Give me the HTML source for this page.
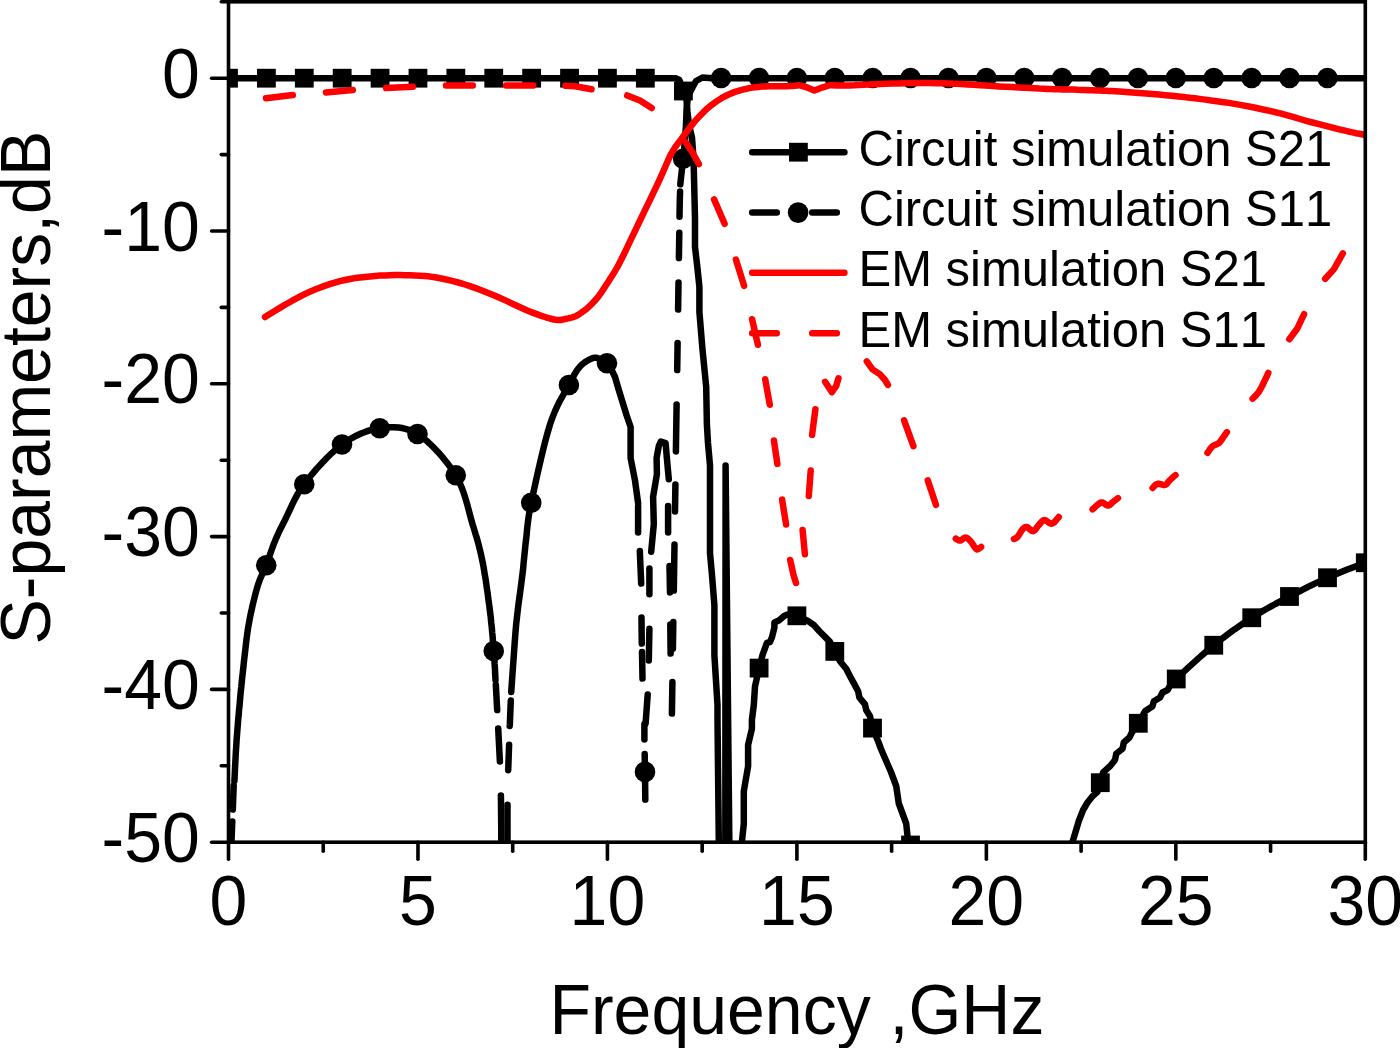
<!DOCTYPE html>
<html lang="en"><head><meta charset="utf-8"><title>S-parameters</title>
<style>html,body{margin:0;padding:0;background:#fff}svg{display:block}</style>
</head><body>
<svg width="1400" height="1048" viewBox="0 0 1400 1048">
<rect width="1400" height="1048" fill="#fff"/>
<defs><clipPath id="pc"><rect x="228.5" y="1.8" width="1136.8" height="840.4000000000001"/></clipPath></defs>
<g clip-path="url(#pc)" fill="none" stroke-linejoin="round" stroke-linecap="round">
<polyline points="228.5,78.2 675.6,78.2 679.4,80.0 683.4,91.0 686.5,100.0 687.5,112.0 689.0,125.0 692.0,137.5 693.6,160.0 695.0,218.5 695.0,247.0 697.5,268.5 699.4,287.0 699.4,312.0 702.5,349.5 706.2,387.0 706.9,424.5 708.0,443.0 710.0,465.5 710.0,553.0 711.9,574.0 714.4,605.2 714.4,655.2 717.5,705.0 717.5,720.0 718.8,842.0 719.0,900.0" stroke="#000" stroke-width="6.5"/>
<polyline points="725.3,900.0 725.6,465.5 729.9,900.0" stroke="#000" stroke-width="6.5" stroke-linejoin="round"/>
<polyline points="741.5,860.0 741.9,842.0 743.8,823.8 743.8,791.2 748.1,766.2 748.1,745.0 751.9,728.8 751.9,720.0 753.8,705.0 755.0,686.5 759.1,668.1 762.5,655.2 766.9,642.8 770.0,642.0 771.9,637.5 774.4,627.5 774.4,622.5 778.8,620.6 783.8,616.2 787.5,614.4 796.9,615.8 807.5,620.6 813.8,625.0 819.4,631.2 825.0,636.9 830.0,641.9 834.8,651.4 840.0,661.2 846.2,668.8 850.0,676.2 853.8,683.1 858.1,691.2 859.4,697.5 865.0,704.4 866.2,710.0 870.0,716.2 872.5,728.1 878.0,741.0 881.0,749.0 887.5,764.0 891.0,772.0 896.2,786.0 898.8,803.5 906.2,823.5 907.5,836.0 910.5,845.0 912.0,870.0" stroke="#000" stroke-width="6.5"/>
<polyline points="1066.0,860.0 1072.5,842.0 1078.8,821.0 1083.1,810.0 1087.5,802.5 1092.5,796.2 1097.5,791.9 1100.3,782.7 1103.1,772.5 1110.0,766.2 1115.0,760.0 1116.2,753.8 1122.5,748.8 1123.8,742.5 1129.4,737.5 1131.9,732.5 1138.3,723.3 1145.0,711.2 1152.5,706.2 1153.8,701.2 1160.0,697.5 1162.5,692.5 1167.5,690.0 1168.0,689.3 1168.4,688.6 1168.9,687.7 1169.5,686.6 1170.5,685.3 1171.8,683.6 1173.7,681.5 1176.2,679.0 1179.6,675.8 1183.6,672.0 1188.2,667.7 1193.2,663.2 1198.4,658.4 1203.7,653.8 1208.8,649.3 1213.8,645.2 1218.5,641.5 1223.2,637.8 1228.0,634.2 1232.7,630.7 1237.5,627.3 1242.3,624.0 1247.0,620.8 1251.8,617.8 1256.5,614.8 1261.2,611.9 1265.9,609.2 1270.6,606.6 1275.3,604.0 1280.1,601.5 1284.8,599.0 1289.5,596.5 1294.2,594.0 1299.0,591.5 1303.7,589.1 1308.5,586.7 1313.3,584.4 1318.0,582.1 1322.8,579.9 1327.5,577.8 1332.3,575.7 1337.0,573.7 1341.8,571.7 1346.6,569.8 1351.4,568.0 1356.1,566.2 1360.7,564.4 1365.3,562.8 1370.0,561.0 1375.0,559.3 1380.1,557.6 1385.0,555.9 1389.7,554.4 1393.8,553.0 1397.3,551.9 1400.0,551.0" stroke="#000" stroke-width="6.5"/>
<polyline points="233.7,785.4 232.8,809.6" stroke="#000" stroke-width="6.5"/>
<polyline points="232.3,821.4 231.9,831.0 231.5,842.0 231.3,855.6" stroke="#000" stroke-width="6.5"/>
<polyline points="234.4,781.0 234.6,777.8 234.8,773.6 235.0,768.6 235.3,763.0 235.6,757.1 235.9,751.1 236.3,745.4 236.6,740.0 237.0,734.9 237.4,729.8 237.8,724.7 238.2,719.6 238.7,714.6 239.1,709.6 239.6,704.8 240.0,700.0 240.4,695.4 240.8,691.0 241.3,686.8 241.7,682.6 242.1,678.3 242.6,674.1 243.1,669.6 243.6,665.0 244.1,660.1 244.7,655.1 245.3,649.9 245.9,644.7 246.5,639.4 247.2,634.1 247.9,629.0 248.8,624.0 249.7,619.0 250.7,614.0 251.8,609.0 252.9,604.0 254.1,599.2 255.2,594.7 256.4,590.4 257.5,586.5 258.6,583.1 259.7,580.1 260.8,577.5 261.9,575.0 263.0,572.7 264.1,570.4 265.2,567.9 266.2,565.2 267.3,562.3 268.4,559.3 269.5,556.2 270.5,553.1 271.6,550.0 272.7,546.9 273.8,543.9 275.0,541.0 276.1,538.3 277.2,535.9 278.3,533.5 279.3,531.2 280.5,528.8 281.8,526.2 283.3,523.3 285.0,520.0 286.8,516.2 288.7,512.1 290.7,507.8 292.9,503.2 295.3,498.4 297.9,493.6 300.9,488.8 304.2,484.0 308.1,479.1 312.4,473.8 317.0,468.4 322.0,463.0 327.0,457.8 332.1,452.8 337.1,448.3 342.0,444.5 346.7,441.2 351.5,438.3 356.3,435.7 361.0,433.5 365.8,431.7 370.5,430.2 375.3,429.1 380.0,428.2 384.7,427.7 389.4,427.3 394.1,427.2 398.7,427.5 403.4,428.3 408.1,429.6 412.8,431.4 417.5,434.0 422.4,437.4 427.5,441.6 432.7,446.5 437.9,451.9 442.9,457.7 447.7,463.6 452.0,469.5 455.8,475.2 458.9,481.1 461.6,487.2 463.9,493.5 465.9,499.9 467.7,506.2 469.3,512.4 470.9,518.4 472.5,524.0 474.1,529.1 475.5,533.9 476.9,538.3 478.1,542.7 479.2,547.0 480.3,551.5 481.4,556.3 482.5,561.5 483.6,567.2 484.6,573.4 485.7,579.8 486.6,586.4 487.6,593.0 488.4,599.4 489.3,605.7 490.0,611.5 490.7,617.0 491.2,622.4 491.8,627.5 492.2,632.6 492.7,637.4 493.0,642.1 493.4,646.6 493.8,651.0 494.1,655.3 494.4,659.7 494.6,663.9 494.9,668.0 495.1,671.7 495.2,675.0 495.4,677.8 495.5,680.0" stroke="#000" stroke-width="6.5"/>
<polyline points="495.8,684.4 497.2,710.1" stroke="#000" stroke-width="6.5"/>
<polyline points="498.2,728.5 499.9,761.5" stroke="#000" stroke-width="6.5"/>
<polyline points="500.9,795.4 501.2,823.8 501.3,842.0 501.3,853.1" stroke="#000" stroke-width="6.5"/>
<polyline points="510.8,700.4 509.8,725.0 509.7,725.9" stroke="#000" stroke-width="6.5"/>
<polyline points="509.1,744.8 508.2,770.2" stroke="#000" stroke-width="6.5"/>
<polyline points="507.5,804.8 507.5,842.0 507.5,853.1" stroke="#000" stroke-width="6.5"/>
<polyline points="511.2,692.0 511.6,686.6 512.1,679.4 512.7,670.7 513.4,661.1 514.1,651.2 514.8,641.3 515.5,632.1 516.2,624.0 517.0,616.8 517.8,609.9 518.6,603.2 519.5,596.9 520.3,590.8 521.1,585.0 521.8,579.4 522.5,574.0 523.1,569.0 523.5,564.5 523.9,560.2 524.3,556.2 524.7,552.3 525.1,548.4 525.5,544.3 526.0,540.0 526.5,535.8 526.9,531.9 527.2,528.1 527.7,524.1 528.2,519.9 528.9,515.0 529.9,509.4 531.2,502.8 532.9,494.7 535.0,485.2 537.3,474.7 539.8,463.8 542.4,452.8 545.0,442.3 547.6,432.7 550.0,424.5 552.4,417.6 554.9,411.4 557.4,405.9 559.8,401.0 562.3,396.6 564.6,392.5 566.8,388.7 568.8,385.0 570.5,381.6 572.1,378.7 573.5,376.1 574.8,373.8 576.0,371.8 577.3,369.9 578.6,368.2 580.0,366.5 581.5,364.9 583.2,363.5 584.8,362.3 586.5,361.2 588.1,360.2 589.7,359.4 591.2,358.8 592.5,358.2 593.7,357.9 594.7,357.7 595.7,357.7 596.6,357.8 597.4,358.1 598.3,358.4 599.1,358.7 600.0,359.0 600.9,359.4 601.9,359.9 603.0,360.5 604.0,361.2 604.9,361.8 605.8,362.4 606.5,362.9 607.0,363.2 611.0,368.5 615.0,377.0 618.8,390.0 622.5,402.0 626.5,415.0 630.6,427.0 630.6,458.0 635.0,480.5 638.1,503.0" stroke="#000" stroke-width="6.5"/>
<polyline points="638.1,505.9 638.1,532.6" stroke="#000" stroke-width="6.5"/>
<polyline points="639.8,550.9 641.2,583.6" stroke="#000" stroke-width="6.5"/>
<polyline points="641.5,617.4 641.6,630.0 641.8,643.6" stroke="#000" stroke-width="6.5"/>
<polyline points="642.0,651.9 642.5,678.6" stroke="#000" stroke-width="6.5"/>
<polyline points="644.4,724.1 644.4,739.6" stroke="#000" stroke-width="6.5"/>
<polyline points="644.7,754.1 645.0,771.9 645.3,799.6" stroke="#000" stroke-width="6.5"/>
<polyline points="649.4,568.4 649.4,594.2" stroke="#000" stroke-width="6.5"/>
<polyline points="649.4,628.8 648.8,660.5" stroke="#000" stroke-width="6.5"/>
<polyline points="647.7,694.4 645.6,723.6" stroke="#000" stroke-width="6.5"/>
<polyline points="651.2,551.8 653.8,524.2 653.1,496.8 656.9,474.2 656.6,458.0 658.8,446.0 660.8,441.6 665.6,443.2 667.2,461.8 668.8,479.2" stroke="#000" stroke-width="6.5"/>
<polyline points="668.1,505.9 668.1,532.6" stroke="#000" stroke-width="6.5"/>
<polyline points="669.5,565.9 670.0,592.4" stroke="#000" stroke-width="6.5"/>
<polyline points="670.3,624.4 670.6,653.6" stroke="#000" stroke-width="6.5"/>
<polyline points="682.9,160.4 680.3,184.3" stroke="#000" stroke-width="6.5"/>
<polyline points="680.1,191.4 679.8,200.0 679.5,216.8" stroke="#000" stroke-width="6.5"/>
<polyline points="679.3,232.7 678.9,258.1" stroke="#000" stroke-width="6.5"/>
<polyline points="678.5,282.6 678.1,309.6" stroke="#000" stroke-width="6.5"/>
<polyline points="677.6,343.0 677.2,370.1" stroke="#000" stroke-width="6.5"/>
<polyline points="676.6,404.4 675.9,451.4" stroke="#000" stroke-width="6.5"/>
<polyline points="675.4,484.6 675.0,511.4" stroke="#000" stroke-width="6.5"/>
<polyline points="674.5,544.6 673.8,590.6" stroke="#000" stroke-width="6.5"/>
<polyline points="673.3,621.9 672.9,648.6" stroke="#000" stroke-width="6.5"/>
<polyline points="672.4,681.9 671.9,713.6" stroke="#000" stroke-width="6.5"/>
<polyline points="683.1,158.8 685.0,140.0 686.0,125.0 686.5,110.0 688.0,96.0 692.5,87.5 696.0,81.0 702.5,77.5 712.0,78.2 1365.3,78.2" stroke="#000" stroke-width="6.5"/>
<rect x="219.10" y="68.80" width="18.8" height="18.8" fill="#000" stroke="none"/>
<rect x="256.99" y="68.80" width="18.8" height="18.8" fill="#000" stroke="none"/>
<rect x="294.89" y="68.80" width="18.8" height="18.8" fill="#000" stroke="none"/>
<rect x="332.78" y="68.80" width="18.8" height="18.8" fill="#000" stroke="none"/>
<rect x="370.67" y="68.80" width="18.8" height="18.8" fill="#000" stroke="none"/>
<rect x="408.57" y="68.80" width="18.8" height="18.8" fill="#000" stroke="none"/>
<rect x="446.46" y="68.80" width="18.8" height="18.8" fill="#000" stroke="none"/>
<rect x="484.35" y="68.80" width="18.8" height="18.8" fill="#000" stroke="none"/>
<rect x="522.25" y="68.80" width="18.8" height="18.8" fill="#000" stroke="none"/>
<rect x="560.14" y="68.80" width="18.8" height="18.8" fill="#000" stroke="none"/>
<rect x="598.03" y="68.80" width="18.8" height="18.8" fill="#000" stroke="none"/>
<rect x="635.93" y="68.80" width="18.8" height="18.8" fill="#000" stroke="none"/>
<rect x="674.00" y="81.60" width="18.8" height="18.8" fill="#000" stroke="none"/>
<rect x="749.70" y="658.70" width="18.8" height="18.8" fill="#000" stroke="none"/>
<rect x="787.50" y="606.40" width="18.8" height="18.8" fill="#000" stroke="none"/>
<rect x="825.40" y="642.00" width="18.8" height="18.8" fill="#000" stroke="none"/>
<rect x="863.10" y="718.70" width="18.8" height="18.8" fill="#000" stroke="none"/>
<rect x="901.10" y="835.60" width="18.8" height="18.8" fill="#000" stroke="none"/>
<rect x="1090.90" y="773.30" width="18.8" height="18.8" fill="#000" stroke="none"/>
<rect x="1128.90" y="713.90" width="18.8" height="18.8" fill="#000" stroke="none"/>
<rect x="1166.85" y="669.60" width="18.8" height="18.8" fill="#000" stroke="none"/>
<rect x="1204.35" y="635.85" width="18.8" height="18.8" fill="#000" stroke="none"/>
<rect x="1242.35" y="608.35" width="18.8" height="18.8" fill="#000" stroke="none"/>
<rect x="1280.10" y="587.10" width="18.8" height="18.8" fill="#000" stroke="none"/>
<rect x="1318.10" y="568.35" width="18.8" height="18.8" fill="#000" stroke="none"/>
<rect x="1355.90" y="553.35" width="18.8" height="18.8" fill="#000" stroke="none"/>
<circle cx="266.25" cy="565.25" r="10.3" fill="#000" stroke="none"/>
<circle cx="304.25" cy="484.20" r="10.3" fill="#000" stroke="none"/>
<circle cx="342.00" cy="444.50" r="10.3" fill="#000" stroke="none"/>
<circle cx="379.70" cy="428.20" r="10.3" fill="#000" stroke="none"/>
<circle cx="417.50" cy="434.00" r="10.3" fill="#000" stroke="none"/>
<circle cx="455.75" cy="475.25" r="10.3" fill="#000" stroke="none"/>
<circle cx="493.75" cy="651.00" r="10.3" fill="#000" stroke="none"/>
<circle cx="531.25" cy="502.75" r="10.3" fill="#000" stroke="none"/>
<circle cx="568.90" cy="385.00" r="10.3" fill="#000" stroke="none"/>
<circle cx="607.00" cy="363.25" r="10.3" fill="#000" stroke="none"/>
<circle cx="645.00" cy="771.90" r="10.3" fill="#000" stroke="none"/>
<circle cx="683.10" cy="158.75" r="10.3" fill="#000" stroke="none"/>
<circle cx="721.11" cy="78.00" r="10.3" fill="#000" stroke="none"/>
<circle cx="759.01" cy="78.00" r="10.3" fill="#000" stroke="none"/>
<circle cx="796.90" cy="78.00" r="10.3" fill="#000" stroke="none"/>
<circle cx="834.79" cy="78.00" r="10.3" fill="#000" stroke="none"/>
<circle cx="872.69" cy="78.00" r="10.3" fill="#000" stroke="none"/>
<circle cx="910.58" cy="78.00" r="10.3" fill="#000" stroke="none"/>
<circle cx="948.47" cy="78.00" r="10.3" fill="#000" stroke="none"/>
<circle cx="986.37" cy="78.00" r="10.3" fill="#000" stroke="none"/>
<circle cx="1024.26" cy="78.00" r="10.3" fill="#000" stroke="none"/>
<circle cx="1062.15" cy="78.00" r="10.3" fill="#000" stroke="none"/>
<circle cx="1100.05" cy="78.00" r="10.3" fill="#000" stroke="none"/>
<circle cx="1137.94" cy="78.00" r="10.3" fill="#000" stroke="none"/>
<circle cx="1175.83" cy="78.00" r="10.3" fill="#000" stroke="none"/>
<circle cx="1213.73" cy="78.00" r="10.3" fill="#000" stroke="none"/>
<circle cx="1251.62" cy="78.00" r="10.3" fill="#000" stroke="none"/>
<circle cx="1289.51" cy="78.00" r="10.3" fill="#000" stroke="none"/>
<circle cx="1327.41" cy="78.00" r="10.3" fill="#000" stroke="none"/>
<polyline points="265.0,317.0 267.7,315.3 271.5,313.0 275.9,310.3 280.7,307.4 285.5,304.5 290.0,302.0 294.1,299.7 298.1,297.5 302.2,295.4 306.3,293.4 310.5,291.4 315.0,289.5 319.7,287.7 324.6,285.9 329.7,284.2 334.8,282.6 339.9,281.2 345.0,280.0 350.0,279.0 355.0,278.1 360.0,277.5 365.0,276.9 370.0,276.4 375.0,276.0 380.0,275.6 385.0,275.4 390.0,275.2 395.0,275.1 400.0,275.1 405.0,275.2 410.0,275.3 415.0,275.5 420.0,275.7 425.0,276.1 430.0,276.6 435.0,277.3 440.0,278.2 445.0,279.2 450.0,280.3 455.0,281.6 460.0,283.0 465.0,284.5 470.0,286.1 475.0,287.9 480.0,289.7 485.0,291.7 490.0,293.7 495.0,295.8 500.1,298.0 505.4,300.4 510.6,302.9 515.7,305.3 520.6,307.5 525.0,309.5 529.0,311.2 532.7,312.6 536.1,313.9 539.3,315.1 542.2,316.1 545.0,317.0 547.6,317.8 549.9,318.5 552.0,319.0 554.0,319.5 555.8,319.8 557.5,320.0 559.0,320.1 560.3,320.0 561.4,319.8 562.5,319.6 563.7,319.3 565.0,319.0 566.5,318.7 568.1,318.4 569.7,318.0 571.4,317.6 572.9,317.2 574.4,316.7 575.7,316.1 576.9,315.5 578.1,314.9 579.2,314.2 580.3,313.4 581.5,312.6 582.7,311.7 583.9,310.8 585.2,309.9 586.4,308.9 587.6,307.9 588.7,306.9 589.8,305.9 590.7,305.0 591.7,304.0 592.6,303.0 593.6,302.0 594.5,301.0 595.4,300.0 596.2,299.1 597.0,298.2 597.8,297.2 598.8,295.9 600.0,294.3 601.4,292.3 603.0,289.9 604.7,287.3 606.5,284.5 608.3,281.7 610.0,279.0 611.6,276.5 613.0,274.4 614.4,272.1 615.9,269.5 617.8,266.3 620.0,262.0 622.8,256.5 626.0,249.9 629.4,242.7 633.0,235.1 636.6,227.6 640.0,220.5 643.3,213.7 646.7,206.7 650.0,199.9 653.2,193.2 656.2,186.9 659.0,181.0 661.4,175.6 663.6,170.6 665.6,165.9 667.5,161.6 669.3,157.5 671.2,153.8 673.2,150.4 675.0,147.5 676.9,144.9 678.7,142.5 680.6,140.1 682.5,137.5 684.5,134.8 686.5,132.0 688.5,129.3 690.6,126.6 692.8,123.9 695.0,121.2 697.3,118.6 699.7,116.0 702.2,113.4 704.7,110.9 707.3,108.5 710.0,106.2 712.8,104.1 715.6,102.0 718.5,100.1 721.5,98.2 724.5,96.5 727.5,95.0 730.6,93.6 733.7,92.4 736.8,91.3 740.0,90.4 743.1,89.5 746.2,88.8 749.3,88.1 752.4,87.6 755.4,87.2 758.5,86.9 761.7,86.6 765.0,86.4 768.7,86.3 772.6,86.2 776.7,86.2 780.7,86.2 784.3,86.3 787.5,86.2 790.2,86.1 792.6,85.9 794.7,85.7 796.4,85.5 797.9,85.3 799.0,85.2 806.0,87.0 814.4,90.6 822.0,87.6 829.8,85.2 831.9,85.2 834.7,85.3 838.0,85.4 841.8,85.4 845.8,85.5 850.0,85.4 854.3,85.3 859.0,85.0 863.9,84.8 869.1,84.5 874.5,84.2 880.0,84.0 885.8,83.8 891.9,83.6 898.3,83.4 904.7,83.2 911.2,83.1 917.5,83.0 923.8,83.0 930.0,83.1 936.2,83.2 942.5,83.3 948.8,83.5 955.0,83.8 961.2,84.0 967.5,84.4 973.8,84.8 980.0,85.2 986.2,85.6 992.5,86.0 998.9,86.4 1005.5,86.7 1012.0,87.1 1018.4,87.5 1024.5,87.8 1030.0,88.1 1034.9,88.3 1039.4,88.6 1043.4,88.7 1047.3,88.9 1051.1,89.1 1055.0,89.2 1058.9,89.3 1062.7,89.4 1066.4,89.5 1070.1,89.6 1073.8,89.6 1077.5,89.8 1081.3,89.9 1085.3,90.0 1089.2,90.2 1093.1,90.3 1096.7,90.5 1100.0,90.6 1102.7,90.7 1104.7,90.8 1106.6,90.8 1108.6,90.9 1111.3,91.0 1115.0,91.2 1119.9,91.6 1125.8,92.0 1132.3,92.4 1139.2,92.9 1146.0,93.5 1152.5,94.0 1158.9,94.6 1165.5,95.2 1172.0,95.8 1178.4,96.5 1184.5,97.1 1190.0,97.8 1194.9,98.3 1199.4,98.9 1203.4,99.4 1207.3,99.9 1211.1,100.5 1215.0,101.0 1218.7,101.5 1222.1,102.0 1225.5,102.4 1229.0,102.9 1232.9,103.6 1237.5,104.4 1242.9,105.4 1248.9,106.5 1255.3,107.8 1261.9,109.2 1268.6,110.6 1275.0,112.1 1281.2,113.7 1287.5,115.4 1293.8,117.2 1300.0,119.0 1306.2,120.8 1312.5,122.5 1319.0,124.2 1325.8,125.9 1332.6,127.7 1339.1,129.3 1345.0,130.7 1350.0,131.9 1353.6,132.7 1356.0,133.2 1357.8,133.5 1359.6,133.8 1361.9,134.3 1365.3,135.0 1370.4,136.1 1376.7,137.6 1383.6,139.2 1390.3,140.7 1396.0,142.1 1400.0,143.0" stroke="#ff0000" stroke-width="6.5"/>
<polyline points="266.0,98.2 292.8,95.1" stroke="#ff0000" stroke-width="6.5"/>
<polyline points="326.0,92.4 352.8,90.1" stroke="#ff0000" stroke-width="6.5"/>
<polyline points="386.0,88.0 412.8,86.8" stroke="#ff0000" stroke-width="6.5"/>
<polyline points="446.0,85.6 472.8,85.4" stroke="#ff0000" stroke-width="6.5"/>
<polyline points="506.0,85.4 533.3,85.6" stroke="#ff0000" stroke-width="6.5"/>
<polyline points="565.5,85.8 575.0,86.2 591.5,89.3" stroke="#ff0000" stroke-width="6.5"/>
<polyline points="627.2,95.4 640.0,100.6 651.7,108.0" stroke="#ff0000" stroke-width="6.5"/>
<polyline points="685.6,142.1 692.5,152.5 698.9,164.1" stroke="#ff0000" stroke-width="6.5"/>
<polyline points="714.1,199.4 724.6,223.8" stroke="#ff0000" stroke-width="6.5"/>
<polyline points="735.9,259.5 744.1,285.8" stroke="#ff0000" stroke-width="6.5"/>
<polyline points="752.1,319.2 757.9,344.8" stroke="#ff0000" stroke-width="6.5"/>
<polyline points="765.2,379.2 769.8,404.8" stroke="#ff0000" stroke-width="6.5"/>
<polyline points="773.9,440.5 777.4,463.9" stroke="#ff0000" stroke-width="6.5"/>
<polyline points="782.1,499.6 786.1,524.5" stroke="#ff0000" stroke-width="6.5"/>
<polyline points="790.2,560.0 793.5,575.0 796.0,583.0" stroke="#ff0000" stroke-width="6.5"/>
<polyline points="804.9,554.3 802.6,530.0" stroke="#ff0000" stroke-width="6.5"/>
<polyline points="808.8,496.0 810.7,470.5" stroke="#ff0000" stroke-width="6.5"/>
<polyline points="812.1,434.8 815.4,409.2" stroke="#ff0000" stroke-width="6.5"/>
<polyline points="825.1,381.8 831.9,392.2 836.2,386.0 838.5,378.3" stroke="#ff0000" stroke-width="6.5"/>
<polyline points="866.8,361.4 872.5,369.4 880.0,374.4 885.0,380.0 887.9,384.9" stroke="#ff0000" stroke-width="6.5"/>
<polyline points="904.1,420.4 913.4,446.1" stroke="#ff0000" stroke-width="6.5"/>
<polyline points="927.8,480.4 935.9,504.8" stroke="#ff0000" stroke-width="6.5"/>
<polyline points="955.8,538.6 955.9,538.7 957.1,539.5 958.6,540.3 960.0,540.6 961.4,540.1 962.8,539.0 964.2,537.9 965.6,537.5 966.9,537.9 968.2,538.8 969.4,540.0 970.6,541.2 971.8,542.7 973.0,544.5 974.0,546.2 975.0,547.5 975.7,548.4 976.2,549.0 976.8,549.4 977.5,549.4 978.6,548.9 979.9,547.9 981.1,546.9 981.1,546.9" stroke="#ff0000" stroke-width="6.5"/>
<polyline points="1014.0,539.0 1015.0,538.6 1016.3,537.9 1017.5,536.9 1018.7,535.3 1020.0,533.1 1021.3,531.0 1022.5,529.4 1023.6,528.3 1024.6,527.4 1025.7,526.9 1026.9,526.9 1028.3,527.8 1029.9,529.3 1031.5,530.7 1033.1,531.2 1034.6,530.4 1036.0,528.7 1037.4,526.7 1038.8,525.0 1040.1,523.5 1041.5,521.9 1042.9,520.6 1044.4,520.0 1046.1,520.6 1048.0,522.0 1050.0,523.4 1051.9,523.8 1054.0,522.5 1056.1,520.2 1058.1,517.9 1058.8,517.0" stroke="#ff0000" stroke-width="6.5"/>
<polyline points="1092.6,509.3 1093.2,508.8 1095.1,507.0 1097.1,505.1 1098.8,503.8 1099.9,503.0 1100.7,502.5 1101.5,502.4 1102.5,502.5 1103.8,503.1 1105.2,504.2 1106.7,505.2 1108.1,505.6 1109.4,505.2 1110.5,504.3 1111.7,503.1 1113.0,502.0 1114.5,500.8 1116.2,499.5 1117.7,498.3 1118.0,498.1" stroke="#ff0000" stroke-width="6.5"/>
<polyline points="1152.6,488.0 1152.9,487.7 1154.2,486.2 1155.8,484.7 1157.5,483.8 1159.3,483.8 1161.3,484.4 1163.3,485.0 1165.0,485.0 1166.4,484.2 1167.6,482.9 1168.7,481.4 1170.0,480.0 1171.6,478.5 1173.4,476.9 1175.1,475.4 1175.5,475.1" stroke="#ff0000" stroke-width="6.5"/>
<polyline points="1207.5,452.9 1207.9,452.3 1209.3,450.2 1210.9,448.0 1212.5,446.2 1214.1,445.2 1215.7,444.6 1217.3,444.0 1218.8,443.1 1220.0,441.9 1221.0,440.5 1222.1,439.0 1223.1,437.5 1224.3,435.8 1225.6,434.0 1226.7,432.4 1226.9,432.1" stroke="#ff0000" stroke-width="6.5"/>
<polyline points="1252.6,398.7 1253.1,398.2 1254.9,396.4 1256.9,394.3 1258.8,391.9 1260.4,389.1 1262.1,386.0 1263.6,382.8 1265.0,380.0 1266.2,377.5 1267.3,375.3 1268.1,373.3 1268.3,372.9" stroke="#ff0000" stroke-width="6.5"/>
<polyline points="1289.3,339.2 1297.5,328.2 1304.1,314.2" stroke="#ff0000" stroke-width="6.5"/>
<polyline points="1325.2,278.8 1333.8,269.4 1342.8,253.4" stroke="#ff0000" stroke-width="6.5"/>
</g>
<g stroke="#000" stroke-width="3.6" fill="none" stroke-linecap="round">
<rect x="228.5" y="1.8" width="1136.8" height="840.4000000000001" stroke-linejoin="miter"/>
<line x1="221.3" y1="1.80" x2="228.5" y2="1.80"/>
<line x1="211.6" y1="78.20" x2="228.5" y2="78.20"/>
<line x1="221.3" y1="154.60" x2="228.5" y2="154.60"/>
<line x1="211.6" y1="231.00" x2="228.5" y2="231.00"/>
<line x1="221.3" y1="307.40" x2="228.5" y2="307.40"/>
<line x1="211.6" y1="383.80" x2="228.5" y2="383.80"/>
<line x1="221.3" y1="460.20" x2="228.5" y2="460.20"/>
<line x1="211.6" y1="536.60" x2="228.5" y2="536.60"/>
<line x1="221.3" y1="613.00" x2="228.5" y2="613.00"/>
<line x1="211.6" y1="689.40" x2="228.5" y2="689.40"/>
<line x1="221.3" y1="765.80" x2="228.5" y2="765.80"/>
<line x1="211.6" y1="842.20" x2="228.5" y2="842.20"/>
<line x1="228.50" y1="842.2" x2="228.50" y2="859.3"/>
<line x1="323.23" y1="842.2" x2="323.23" y2="851.3"/>
<line x1="417.97" y1="842.2" x2="417.97" y2="859.3"/>
<line x1="512.70" y1="842.2" x2="512.70" y2="851.3"/>
<line x1="607.43" y1="842.2" x2="607.43" y2="859.3"/>
<line x1="702.17" y1="842.2" x2="702.17" y2="851.3"/>
<line x1="796.90" y1="842.2" x2="796.90" y2="859.3"/>
<line x1="891.63" y1="842.2" x2="891.63" y2="851.3"/>
<line x1="986.37" y1="842.2" x2="986.37" y2="859.3"/>
<line x1="1081.10" y1="842.2" x2="1081.10" y2="851.3"/>
<line x1="1175.83" y1="842.2" x2="1175.83" y2="859.3"/>
<line x1="1270.57" y1="842.2" x2="1270.57" y2="851.3"/>
<line x1="1365.30" y1="842.2" x2="1365.30" y2="859.3"/>
</g>
<g font-family="Liberation Sans, sans-serif" style="font-kerning:none;font-variant-ligatures:none" fill="#000">
<text transform="translate(199.80,97.80) scale(1,1.045)" font-size="68" text-anchor="end" xml:space="preserve">0</text>
<text transform="translate(199.80,250.60) scale(1,1.045)" font-size="68" text-anchor="end" xml:space="preserve">-10</text>
<text transform="translate(199.80,403.40) scale(1,1.045)" font-size="68" text-anchor="end" xml:space="preserve">-20</text>
<text transform="translate(199.80,556.20) scale(1,1.045)" font-size="68" text-anchor="end" xml:space="preserve">-30</text>
<text transform="translate(199.80,709.00) scale(1,1.045)" font-size="68" text-anchor="end" xml:space="preserve">-40</text>
<text transform="translate(199.80,861.80) scale(1,1.045)" font-size="68" text-anchor="end" xml:space="preserve">-50</text>
<text transform="translate(228.50,925.20) scale(1,1.045)" font-size="68" text-anchor="middle" xml:space="preserve">0</text>
<text transform="translate(417.97,925.20) scale(1,1.045)" font-size="68" text-anchor="middle" xml:space="preserve">5</text>
<text transform="translate(607.43,925.20) scale(1,1.045)" font-size="68" text-anchor="middle" xml:space="preserve">10</text>
<text transform="translate(796.90,925.20) scale(1,1.045)" font-size="68" text-anchor="middle" xml:space="preserve">15</text>
<text transform="translate(986.37,925.20) scale(1,1.045)" font-size="68" text-anchor="middle" xml:space="preserve">20</text>
<text transform="translate(1175.83,925.20) scale(1,1.045)" font-size="68" text-anchor="middle" xml:space="preserve">25</text>
<text transform="translate(1365.30,925.20) scale(1,1.045)" font-size="68" text-anchor="middle" xml:space="preserve">30</text>
<text transform="translate(796.90,1034.10) scale(1,1.045)" font-size="68" text-anchor="middle" xml:space="preserve">Frequency ,GHz</text>
<text transform="translate(50.30,644.60) rotate(-90) scale(1,1.045)" font-size="68" text-anchor="start" xml:space="preserve">S-parameters,dB</text>
<text transform="translate(858.50,165.80) scale(1,1.02)" font-size="49" text-anchor="start" xml:space="preserve">Circuit simulation S21</text>
<text transform="translate(858.50,226.00) scale(1,1.02)" font-size="49" text-anchor="start" xml:space="preserve">Circuit simulation S11</text>
<text transform="translate(858.50,286.20) scale(1,1.02)" font-size="49" text-anchor="start" xml:space="preserve">EM simulation S21</text>
<text transform="translate(858.50,346.50) scale(1,1.02)" font-size="49" text-anchor="start" xml:space="preserve">EM simulation S11</text>
</g>
<g fill="none" stroke-linecap="round" stroke-width="6.5">
<line x1="752.2" y1="152.2" x2="844.4" y2="152.2" stroke="#000"/>
<rect x="789.0" y="142.79999999999998" width="18.8" height="18.8" fill="#000" stroke="none"/>
<line x1="752.2" y1="212.6" x2="844.4" y2="212.6" stroke="#000" stroke-dasharray="24.6 35.4"/>
<circle cx="798.1" cy="212.6" r="10.3" fill="#000" stroke="none"/>
<line x1="752.2" y1="272.8" x2="844.4" y2="272.8" stroke="#ff0000"/>
<line x1="752.2" y1="333.2" x2="844.4" y2="333.2" stroke="#ff0000" stroke-dasharray="24.6 35.4"/>
</g>
</svg>
</body></html>
